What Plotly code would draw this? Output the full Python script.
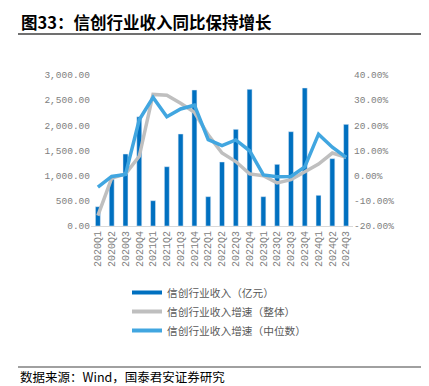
import plotly.graph_objects as go

categories = ["2020Q1","2020Q2","2020Q3","2020Q4","2021Q1","2021Q2","2021Q3","2021Q4",
              "2022Q1","2022Q2","2022Q3","2022Q4","2023Q1","2023Q2","2023Q3","2023Q4",
              "2024Q1","2024Q2","2024Q3"]
revenue = [383, 930, 1430, 2170, 503, 1178, 1828, 2702, 583, 1272, 1921, 2715,
           583, 1225, 1874, 2742, 610, 1338, 2020]
growth_total = [-15.9, -1.0, 0.7, 7.7, 32.3, 32.0, 28.8, 25.2, 16.2, 9.0, 5.6, 0.7,
                0.0, -2.9, -1.6, 1.6, 4.6, 9.0, 7.3]
growth_median = [-4.6, -0.3, 0.5, 22.2, 31.1, 23.4, 26.5, 28.0, 14.3, 11.9, 14.2, 9.9,
                 0.3, -0.4, -0.3, 3.5, 16.5, 11.3, 7.3]
left_ticks = [0, 500, 1000, 1500, 2000, 2500, 3000]
right_ticks = [-20, -10, 0, 10, 20, 30, 40]
right_ticktext = [f"{v:.2f}%" for v in right_ticks]

names = ["信创行业收入（亿元）", "信创行业收入增速（整体）", "信创行业收入增速（中位数）"]
colors = ["#0070C0", "#BFBFBF", "#41A6E0"]

W, H = 429, 386
L, R, T, B = 91, 353, 75, 226
pw, ph = R - L, B - T

def px(x):
    return (x - L) / pw

def py(y):
    return (B - y) / ph

fig = go.Figure()
fig.add_trace(go.Bar(x=categories, y=revenue, marker_color=colors[0], width=0.36,
                     showlegend=False, name=names[0]))
fig.add_trace(go.Scatter(x=categories, y=growth_total, yaxis="y2", mode="lines",
                         line=dict(color=colors[1], width=3.5), showlegend=False, name=names[1]))
fig.add_trace(go.Scatter(x=categories, y=growth_median, yaxis="y2", mode="lines",
                         line=dict(color=colors[2], width=3.5), showlegend=False, name=names[2]))
# legend entries drawn as line samples
for n, c in zip(names, colors):
    fig.add_trace(go.Scatter(x=[None], y=[None], mode="lines", name=n,
                             line=dict(color=c, width=4), showlegend=True))

tickfont = dict(family="Liberation Mono, Noto Sans CJK SC", size=9.5, color="#808080")

fig.update_layout(
    width=W, height=H,
    margin=dict(l=L, r=W - R, t=T, b=H - B),
    paper_bgcolor="white", plot_bgcolor="white",
    bargap=0.64,
    xaxis=dict(type="category", tickangle=-90,
               tickfont=dict(family="Liberation Mono", size=10, color="#808080"),
               showline=True, linecolor="#D9D9D9", linewidth=1, showgrid=False, ticks=""),
    yaxis=dict(range=[0, 3000], tickvals=left_ticks, tickformat=",.2f", tickfont=tickfont,
               showgrid=False, zeroline=False, showline=False, ticks=""),
    yaxis2=dict(range=[-20, 40], tickvals=right_ticks, ticktext=right_ticktext,
                overlaying="y", side="right", tickfont=tickfont,
                showgrid=False, zeroline=False, showline=False, ticks=""),
    legend=dict(x=px(127), y=py(278), xanchor="left", yanchor="top",
                font=dict(family="Noto Sans CJK SC", size=10.7, color="#595959"),
                bgcolor="rgba(0,0,0,0)", tracegroupgap=0),
    annotations=[
        dict(text="<b>图33：信创行业收入同比保持增长</b>", xref="paper", yref="paper",
             x=px(19), y=py(22), xanchor="left", yanchor="middle", showarrow=False,
             font=dict(family="Noto Sans CJK SC", size=16.5, color="#000000")),
        dict(text="数据来源：Wind，国泰君安证券研究", xref="paper", yref="paper",
             x=px(19), y=py(376), xanchor="left", yanchor="middle", showarrow=False,
             borderpad=0,
             font=dict(family="Noto Sans CJK SC", size=12.5, color="#000000")),
    ],
    shapes=[
        dict(type="line", xref="paper", yref="paper", x0=px(18), x1=px(421), y0=py(34), y1=py(34),
             line=dict(color="#404040", width=1.3)),
        dict(type="line", xref="paper", yref="paper", x0=px(18), x1=px(421), y0=py(367), y1=py(367),
             line=dict(color="#808080", width=1.3)),
    ],
)

fig.write_html("out.html", config={"displayModeBar": False},
               post_script="document.body.style.margin='0';document.body.style.overflow='hidden';")
